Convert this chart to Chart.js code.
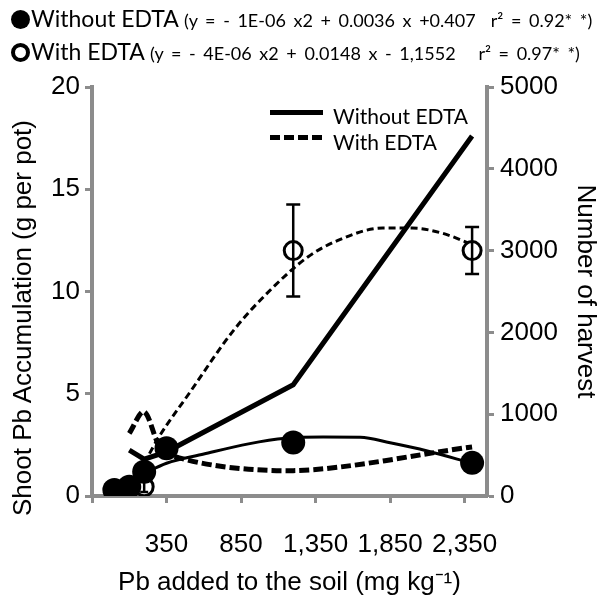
<!DOCTYPE html>
<html><head><meta charset="utf-8">
<script src="https://cdn.jsdelivr.net/npm/chart.js@4.4.1/dist/chart.umd.min.js"></script>
<style>
html,body{margin:0;padding:0;background:#fff;}
#wrap{position:relative;width:606px;height:599px;overflow:hidden;}
#c{position:absolute;left:0;top:0;}
.hdr{position:absolute;left:0;white-space:pre;font-family:Lato,sans-serif;color:#000;line-height:1;}
.hdr .nm{font-size:23px;}
.hdr .eq{font-size:18px;word-spacing:3px;}
.bul{display:inline-block;width:19px;height:19px;border-radius:50%;box-sizing:border-box;vertical-align:-2px;margin-right:1px;}
.leg{position:absolute;font-family:Lato,sans-serif;font-size:21px;white-space:pre;color:#000;line-height:1;}
.key{position:absolute;width:53px;height:0;}
#ytitle{position:absolute;left:22px;top:318px;width:0;height:0;}
#ytitle span{position:absolute;left:0;top:0;transform:translate(-50%,-50%) rotate(-90deg);white-space:pre;font-family:'Liberation Sans',Arial,sans-serif;font-size:26px;line-height:1;color:#000;}
</style></head>
<body>
<div id="wrap">
<canvas id="c" width="606" height="599"></canvas>
<div class="hdr" id="h1" style="top:7px;left:11px"></div>
<div class="hdr" id="h2" style="top:40px;left:11px"></div>
<div class="key" style="left:270px;top:110px;border-top:5px solid #000"></div>
<div class="key" style="left:270px;top:135px;height:5px;background:repeating-linear-gradient(90deg,#000 0 10px,transparent 10px 14px)"></div>
<div class="leg" id="l1" style="left:333px;top:105px"></div>
<div class="leg" id="l2" style="left:333px;top:131px"></div>
<div id="ytitle"><span id="yt"></span></div>
</div>
<script>
// ---- data ----
const seriesNames = ['Without EDTA', 'With EDTA'];
const equations = ['(y = - 1E-06 x2 + 0.0036 x +0.407  r\u00B2 = 0.92* *)',
                   '(y = - 4E-06 x2 + 0.0148 x - 1,1552   r\u00B2 = 0.97* *)'];
const xTitle = 'Pb added to the soil (mg kg\u207B\u00B9)';
const yTitle = 'Shoot Pb Accumulation (g per pot)';
const y2Title = 'Number of harvest';

// Shoot Pb accumulation (left axis, g per pot)
const pbWithoutX = [0, 100, 200, 350, 1200, 2400];
const pbWithoutY = [0.29, 0.45, 1.19, 2.33, 2.62, 1.62];
const pbWithX = [200, 1200, 2400];
const pbWithY = [0.45, 12.0, 12.0];
const pbWithErr = [0.25, 2.25, 1.15];

// Trendlines (left axis)
const trendWithoutX = [0, 100, 200, 350, 600, 900, 1150, 1400, 1650, 1850, 2100, 2400];
const trendWithoutY = [0.4, 0.75, 1.1, 1.6, 2.05, 2.55, 2.82, 2.88, 2.87, 2.6, 2.2, 1.6];
const trendWithX = [200, 300, 500, 800, 1050, 1300, 1500, 1800, 2000, 2200, 2400];
const trendWithY = [1.6, 2.9, 5.0, 8.1, 10.1, 11.7, 12.5, 13.1, 13.1, 12.85, 12.3];

// Number of harvest (right axis)
const harvestX = [100, 200, 350, 1200, 2400];
const harvestWithout = [562, 450, 540, 1360, 4400];
const harvestWith = [766, 1030, 520, 310, 600];

// axis ticks
const xTickValues = [350, 850, 1350, 1850, 2350];
const xTickLabels = ['350', '850', '1,350', '1,850', '2,350'];
const yLeftTicks = [0, 5, 10, 15, 20];
const yRightTicks = [0, 1000, 2000, 3000, 4000, 5000];

// ---- header / legend text ----
document.getElementById('h1').innerHTML = '<span class="bul" style="background:#000"></span><span class="nm">' + seriesNames[0] + ' </span><span class="eq">' + equations[0] + '</span>';
document.getElementById('h2').innerHTML = '<span class="bul" style="border:4px solid #000;background:#fff"></span><span class="nm">' + seriesNames[1] + ' </span><span class="eq">' + equations[1] + '</span>';
document.getElementById('l1').textContent = seriesNames[0];
document.getElementById('l2').textContent = seriesNames[1];
document.getElementById('yt').textContent = yTitle;

const pts = (xs, ys) => xs.map((x, i) => ({x: x, y: ys[i]}));
const AX = '#8c8c8c';
const FONT = {family: "'Liberation Sans', Arial, sans-serif", size: 26};

const errorBars = {
  id: 'errorBars',
  afterDatasetsDraw(chart) {
    const ctx = chart.ctx, xs = chart.scales.x, ys = chart.scales.y;
    ctx.save();
    ctx.strokeStyle = '#000';
    ctx.lineWidth = 2.5;
    pbWithX.forEach((xv, i) => {
      const px = xs.getPixelForValue(xv);
      const top = ys.getPixelForValue(pbWithY[i] + pbWithErr[i]);
      const bot = ys.getPixelForValue(pbWithY[i] - pbWithErr[i]);
      const cap = pbWithErr[i] < 1 ? 4 : 7;
      ctx.beginPath();
      ctx.moveTo(px, top); ctx.lineTo(px, bot);
      ctx.moveTo(px - cap, top); ctx.lineTo(px + cap, top);
      ctx.moveTo(px - cap, bot); ctx.lineTo(px + cap, bot);
      ctx.stroke();
    });
    ctx.restore();
  }
};

new Chart(document.getElementById('c'), {
  type: 'scatter',
  data: {
    datasets: [
      {label: 'Without EDTA (Pb)', data: pts(pbWithoutX, pbWithoutY), yAxisID: 'y', showLine: false,
       pointRadius: 12, pointBackgroundColor: '#000', pointBorderColor: '#000', pointBorderWidth: 0},
      {label: 'With EDTA (Pb)', data: pts(pbWithX, pbWithY), yAxisID: 'y', showLine: false,
       pointRadius: 9, pointBackgroundColor: '#fff', pointBorderColor: '#000', pointBorderWidth: 3},
      {label: 'trend without', data: pts(trendWithoutX, trendWithoutY), yAxisID: 'y', showLine: true,
       borderColor: '#000', borderWidth: 3, pointRadius: 0, tension: 0.4, cubicInterpolationMode: 'monotone'},
      {label: 'trend with', data: pts(trendWithX, trendWithY), yAxisID: 'y', showLine: true,
       borderColor: '#000', borderWidth: 3, borderDash: [7, 4], pointRadius: 0, tension: 0.4, cubicInterpolationMode: 'monotone'},
      {label: 'Without EDTA', data: pts(harvestX, harvestWithout), yAxisID: 'y2', showLine: true,
       borderColor: '#000', borderWidth: 5, pointRadius: 0, tension: 0},
      {label: 'With EDTA', data: pts(harvestX, harvestWith), yAxisID: 'y2', showLine: true,
       borderColor: '#000', borderWidth: 5, borderDash: [10, 4], pointRadius: 0, tension: 0.3}
    ]
  },
  options: {
    responsive: false, animation: false,
    layout: {padding: {top: 87, left: 0, right: 0, bottom: 0}},
    plugins: {legend: {display: false}, tooltip: {enabled: false}},
    scales: {
      x: {
        type: 'linear', min: -150, max: 2500,
        afterBuildTicks: s => { s.ticks = [-150].concat(xTickValues).map(v => ({value: v})); },
        afterFit: s => { s.height = 103; },
        ticks: {autoSkip: false, maxRotation: 0, color: '#000', font: FONT, padding: 26,
          callback: v => { const i = xTickValues.indexOf(v); return i < 0 ? '' : xTickLabels[i]; }},
        grid: {drawOnChartArea: false, drawTicks: true, tickLength: 7, tickWidth: 3, tickColor: AX},
        border: {color: AX, width: 4},
        title: {display: true, text: xTitle, color: '#000', font: FONT, padding: {top: 0, bottom: 1}}
      },
      y: {
        position: 'left', min: 0, max: 20,
        afterBuildTicks: s => { s.ticks = yLeftTicks.map(v => ({value: v})); },
        afterFit: s => { s.width = 92; },
        ticks: {color: '#000', font: FONT, padding: 5, callback: v => String(v)},
        grid: {drawOnChartArea: false, drawTicks: true, tickLength: 7, tickWidth: 3, tickColor: AX},
        border: {color: AX, width: 4},
        title: {display: false}
      },
      y2: {
        position: 'right', min: 0, max: 5000,
        afterBuildTicks: s => { s.ticks = yRightTicks.map(v => ({value: v})); },
        afterFit: s => { s.width = 119; },
        ticks: {color: '#000', font: FONT, padding: 6, callback: v => String(v)},
        grid: {drawOnChartArea: false, drawTicks: true, tickLength: 7, tickWidth: 3, tickColor: AX},
        border: {color: AX, width: 4},
        title: {display: true, text: y2Title, color: '#000', font: FONT, padding: {top: 5, bottom: 0}}
      }
    }
  },
  plugins: [errorBars]
});
</script>
</body></html>
